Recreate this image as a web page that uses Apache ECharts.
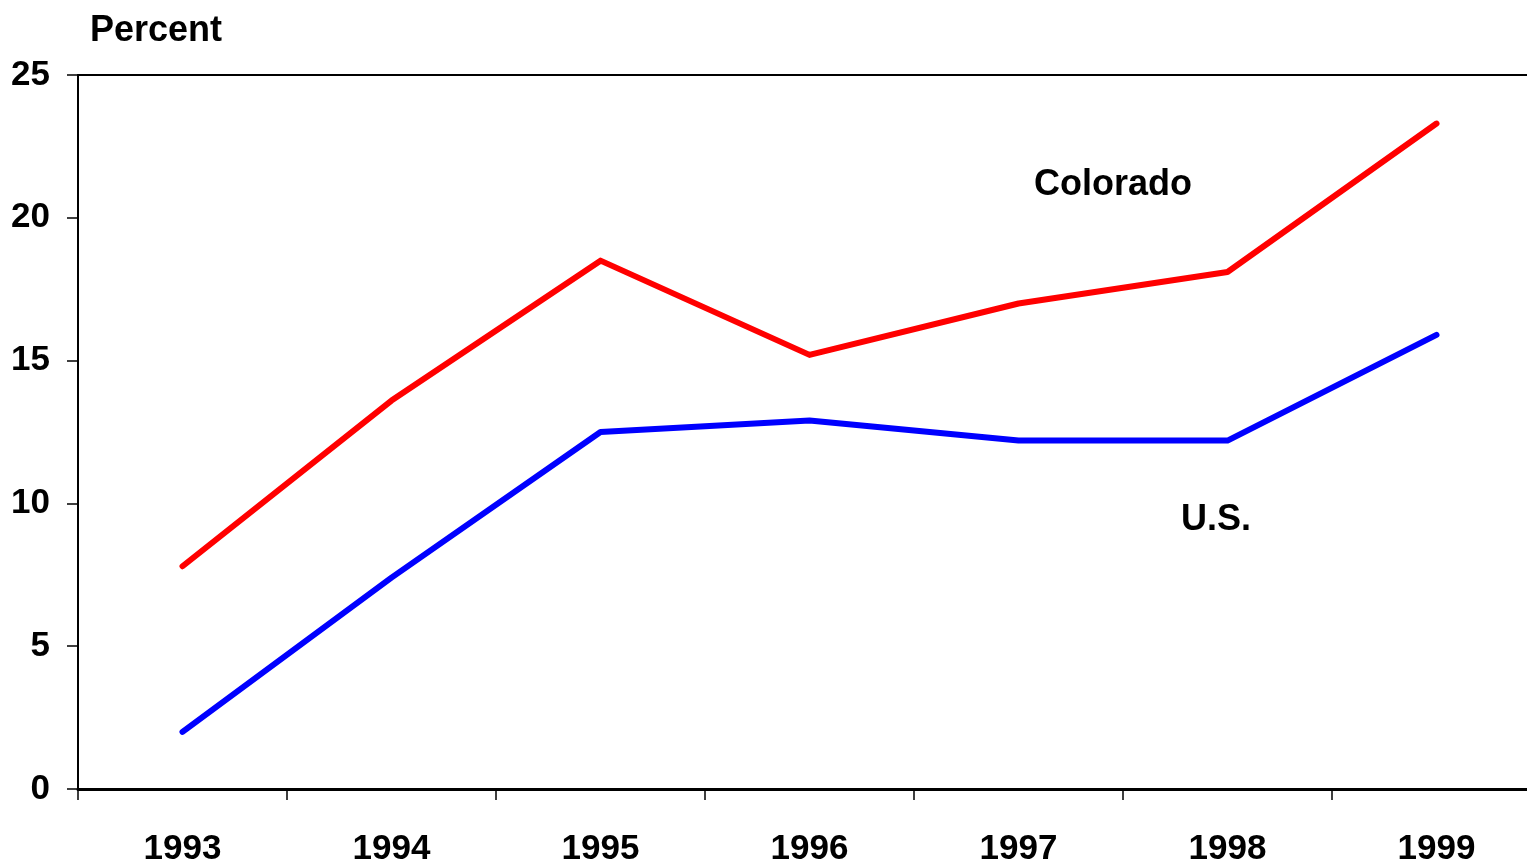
<!DOCTYPE html>
<html>
<head>
<meta charset="utf-8">
<script src="https://cdn.jsdelivr.net/npm/echarts@6/dist/echarts.min.js"></script>
<style>
  html, body { margin: 0; padding: 0; background: #fff; overflow: hidden; }
  /* the plot runs past the right edge of the window in the original */
  #chart { width: 1541px; height: 867px; }
</style>
</head>
<body>
<div id="chart"></div>
<script>
// data
const years = ['1993', '1994', '1995', '1996', '1997', '1998', '1999']
const colorado = [7.8, 13.6, 18.5, 15.2, 17.0, 18.1, 23.3]
const us = [2.0, 7.4, 12.5, 12.9, 12.2, 12.2, 15.9]

const sans = '"Liberation Sans", Arial, sans-serif'

const chart = echarts.init(document.getElementById('chart'))
chart.setOption({
    animation: false,
    backgroundColor: '#fff',
    grid: { left: 78, top: 75, right: 0, bottom: 78 },
    title: {
        text: 'Percent',
        left: 85,
        top: 8,
        textStyle: { fontFamily: sans, fontWeight: 'bold', fontSize: 36, color: '#000' }
    },
    graphic: [
        {
            type: 'text', left: 1034, top: 167,
            style: { text: 'Colorado', font: 'bold 36px ' + sans, fill: '#000' }
        },
        {
            type: 'text', left: 1181, top: 502,
            style: { text: 'U.S.', font: 'bold 36px ' + sans, fill: '#000' }
        }
    ],
    xAxis: [
        {
            type: 'category',
            data: years,
            boundaryGap: true,
            axisLine: { lineStyle: { color: '#000', width: 3 } },
            axisTick: { show: true, length: 11, lineStyle: { color: '#000', width: 1.5 } },
            axisLabel: {
                margin: 43, color: '#000', fontFamily: sans, fontWeight: 'bold', fontSize: 35
            }
        },
        {
            // top frame line
            type: 'category',
            data: years,
            position: 'top',
            axisLine: { lineStyle: { color: '#000', width: 2 } },
            axisTick: { show: false },
            axisLabel: { show: false }
        }
    ],
    yAxis: {
        type: 'value',
        min: 0,
        max: 25,
        interval: 5,
        axisLine: { show: true, lineStyle: { color: '#000', width: 2 } },
        axisTick: { show: true, length: 11, lineStyle: { color: '#000', width: 1.5 } },
        splitLine: { show: false },
        axisLabel: {
            margin: 28, color: '#000', fontFamily: sans, fontWeight: 'bold', fontSize: 35
        }
    },
    series: [
        {
            name: 'Colorado',
            type: 'line',
            data: colorado,
            symbol: 'none',
            lineStyle: { color: '#ff0000', width: 6, cap: 'round', join: 'round' }
        },
        {
            name: 'U.S.',
            type: 'line',
            data: us,
            symbol: 'none',
            lineStyle: { color: '#0000ff', width: 6, cap: 'round', join: 'round' }
        }
    ]
})
</script>
</body>
</html>
